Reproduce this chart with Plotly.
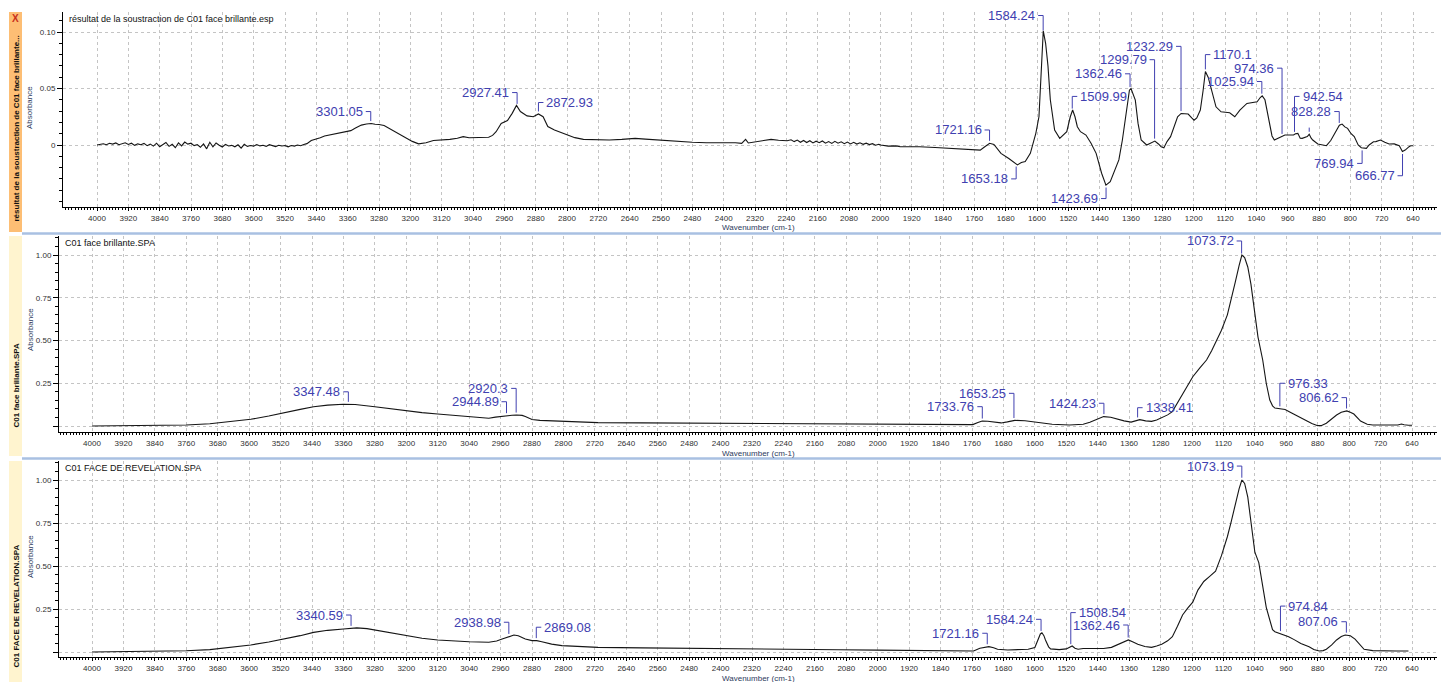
import numpy as np
import plotly.graph_objects as go

# ---------------------------------------------------------------------------
# Spectra: (wavenumber cm-1, absorbance)
# ---------------------------------------------------------------------------
SUB_SPECTRUM = [
    (4000, 0.0000), (3992, 0.0006), (3984, 0.0011), (3976, 0.0003), (3968, 0.0015),
    (3960, 0.0008), (3952, 0.0018), (3944, 0.0002), (3936, 0.0012), (3928, 0.0020),
    (3920, 0.0005), (3912, 0.0016), (3904, -0.0003), (3896, 0.0010), (3888, 0.0002),
    (3880, 0.0014), (3872, -0.0006), (3864, 0.0008), (3856, -0.0010), (3848, 0.0016),
    (3840, -0.0015), (3832, 0.0004), (3824, 0.0022), (3816, -0.0012), (3808, 0.0006),
    (3800, -0.0024), (3792, 0.0018), (3784, -0.0008), (3776, 0.0026), (3768, 0.0008),
    (3760, 0.0016), (3752, -0.0005), (3744, 0.0004), (3736, -0.0020), (3728, 0.0010),
    (3720, -0.0034), (3712, 0.0024), (3704, -0.0016), (3696, 0.0018), (3688, -0.0002),
    (3680, -0.0018), (3672, 0.0006), (3664, -0.0009), (3656, -0.0003), (3648, -0.0016),
    (3640, 0.0002), (3632, -0.0028), (3624, 0.0006), (3616, -0.0012), (3608, -0.0004),
    (3600, -0.0010), (3592, 0.0004), (3584, -0.0008), (3576, -0.0002), (3568, -0.0012),
    (3560, 0.0003), (3552, -0.0006), (3544, -0.0014), (3536, -0.0002), (3528, -0.0009),
    (3520, -0.0004), (3512, -0.0016), (3504, -0.0005), (3496, -0.0010), (3488, 0.0000),
    (3480, -0.0006), (3472, 0.0004), (3464, 0.0012), (3453, 0.0040), (3440, 0.0052),
    (3430, 0.0065), (3419, 0.0080), (3410, 0.0086), (3400, 0.0095), (3390, 0.0102),
    (3377, 0.0110), (3365, 0.0115), (3352, 0.0127), (3340, 0.0150), (3325, 0.0176),
    (3312, 0.0186), (3300, 0.0190), (3290, 0.0184), (3280, 0.0182), (3267, 0.0172),
    (3255, 0.0148), (3242, 0.0122), (3225, 0.0092), (3209, 0.0062), (3195, 0.0032),
    (3179, 0.0010), (3160, 0.0020), (3141, 0.0040), (3120, 0.0044), (3099, 0.0050),
    (3080, 0.0060), (3065, 0.0074), (3050, 0.0064), (3032, 0.0066), (3015, 0.0062),
    (3000, 0.0068), (2990, 0.0085), (2981, 0.0118), (2968, 0.0190), (2952, 0.0216),
    (2940, 0.0280), (2929, 0.0350), (2919, 0.0296), (2902, 0.0258), (2886, 0.0250),
    (2873, 0.0275), (2861, 0.0250), (2849, 0.0163), (2832, 0.0133), (2815, 0.0110),
    (2799, 0.0089), (2780, 0.0065), (2758, 0.0050), (2720, 0.0045), (2692, 0.0044),
    (2660, 0.0050), (2626, 0.0059), (2600, 0.0052), (2568, 0.0044), (2540, 0.0038),
    (2510, 0.0030), (2480, 0.0025), (2444, 0.0020), (2410, 0.0022), (2370, 0.0020),
    (2354, 0.0015), (2344, 0.0050), (2337, 0.0018), (2310, 0.0030), (2279, 0.0050),
    (2260, 0.0042), (2238, 0.0038), (2228, 0.0046), (2220, 0.0030), (2212, 0.0044),
    (2204, 0.0024), (2196, 0.0040), (2188, 0.0022), (2180, 0.0038), (2172, 0.0018),
    (2164, 0.0034), (2156, 0.0020), (2148, 0.0036), (2140, 0.0016), (2132, 0.0030),
    (2124, 0.0014), (2116, 0.0032), (2108, 0.0016), (2100, 0.0028), (2092, 0.0012),
    (2084, 0.0026), (2076, 0.0010), (2068, 0.0024), (2060, 0.0008), (2052, 0.0020),
    (2044, 0.0006), (2036, 0.0016), (2028, 0.0004), (2020, 0.0012), (2012, -0.0002),
    (2004, 0.0006), (1999, 0.0000), (1980, -0.0010), (1960, -0.0008), (1949, -0.0015),
    (1920, -0.0012), (1900, -0.0015), (1860, -0.0022), (1820, -0.0028), (1790, -0.0032),
    (1760, -0.0040), (1745, -0.0045), (1735, -0.0020), (1721, 0.0015), (1710, 0.0005),
    (1692, -0.0074), (1672, -0.0120), (1656, -0.0162), (1650, -0.0176), (1640, -0.0155),
    (1630, -0.0147), (1617, -0.0074), (1603, 0.0103), (1595, 0.0250), (1588, 0.0700),
    (1584, 0.1010), (1578, 0.0900), (1572, 0.0700), (1566, 0.0400), (1555, 0.0132),
    (1542, 0.0059), (1524, 0.0118), (1515, 0.0250), (1509, 0.0310), (1503, 0.0250),
    (1497, 0.0162), (1489, 0.0118), (1475, 0.0088), (1462, 0.0015), (1449, -0.0074),
    (1435, -0.0250), (1424, -0.0355), (1413, -0.0324), (1404, -0.0250), (1391, -0.0132),
    (1382, 0.0044), (1373, 0.0279), (1364, 0.0485), (1360, 0.0500), (1354, 0.0440),
    (1349, 0.0397), (1342, 0.0191), (1334, 0.0044), (1320, 0.0000), (1305, 0.0029),
    (1299, 0.0035), (1290, 0.0009), (1283, -0.0015), (1276, -0.0024), (1268, 0.0030),
    (1259, 0.0074), (1250, 0.0160), (1241, 0.0250), (1232, 0.0279), (1220, 0.0278),
    (1214, 0.0274), (1205, 0.0240), (1199, 0.0220), (1192, 0.0240), (1183, 0.0309),
    (1176, 0.0480), (1170, 0.0650), (1163, 0.0600), (1158, 0.0540), (1152, 0.0460),
    (1143, 0.0338), (1130, 0.0294), (1115, 0.0288), (1108, 0.0285), (1095, 0.0250),
    (1082, 0.0309), (1064, 0.0368), (1045, 0.0380), (1038, 0.0382), (1030, 0.0420),
    (1025, 0.0435), (1018, 0.0400), (1012, 0.0300), (1007, 0.0191), (1000, 0.0080),
    (994, 0.0044), (985, 0.0059), (967, 0.0088), (955, 0.0088), (945, 0.0088),
    (940, 0.0100), (934, 0.0103), (928, 0.0060), (923, 0.0059), (910, 0.0075),
    (905, 0.0095), (900, 0.0060), (896, 0.0044), (883, 0.0009), (861, -0.0006),
    (850, 0.0040), (839, 0.0103), (828, 0.0175), (821, 0.0185), (814, 0.0160),
    (807, 0.0147), (798, 0.0100), (790, 0.0074), (780, 0.0000), (772, -0.0024),
    (765, -0.0029), (759, -0.0030), (752, 0.0000), (741, 0.0029), (735, 0.0030),
    (723, 0.0044), (712, 0.0025), (701, 0.0009), (688, 0.0010), (675, -0.0006),
    (667, -0.0058), (660, -0.0045), (650, -0.0015), (646, -0.0006), (640, -0.0006),
]

BRIL_SPECTRUM = [
    (4000, 0.000), (3900, 0.002), (3800, 0.004), (3760, 0.006), (3700, 0.013),
    (3650, 0.024), (3596, 0.039), (3550, 0.058), (3512, 0.078), (3470, 0.097),
    (3436, 0.113), (3400, 0.122), (3360, 0.127), (3330, 0.126), (3280, 0.113),
    (3240, 0.101), (3200, 0.088), (3160, 0.078), (3120, 0.070), (3080, 0.062),
    (3040, 0.055), (3000, 0.046), (2990, 0.045), (2973, 0.052), (2952, 0.059),
    (2931, 0.063), (2920, 0.064), (2905, 0.062), (2897, 0.055), (2880, 0.038),
    (2860, 0.033), (2838, 0.031), (2800, 0.025), (2760, 0.022), (2712, 0.020),
    (2600, 0.018), (2500, 0.017), (2400, 0.016), (2300, 0.015), (2200, 0.014),
    (2100, 0.013), (2000, 0.013), (1920, 0.012), (1840, 0.012), (1780, 0.010),
    (1758, 0.008), (1745, 0.020), (1734, 0.029), (1720, 0.028), (1700, 0.022),
    (1686, 0.018), (1670, 0.024), (1651, 0.033), (1625, 0.031), (1599, 0.023),
    (1580, 0.018), (1556, 0.010), (1512, 0.006), (1477, 0.010), (1460, 0.022),
    (1442, 0.039), (1425, 0.055), (1407, 0.051), (1390, 0.040), (1373, 0.030),
    (1355, 0.023), (1340, 0.035), (1333, 0.037), (1318, 0.030), (1303, 0.027),
    (1290, 0.035), (1276, 0.049), (1262, 0.065), (1250, 0.084), (1237, 0.135),
    (1224, 0.191), (1211, 0.240), (1198, 0.288), (1180, 0.340), (1163, 0.386),
    (1150, 0.440), (1140, 0.490), (1125, 0.560), (1110, 0.650), (1100, 0.740),
    (1090, 0.840), (1080, 0.940), (1073, 1.000), (1066, 0.985), (1058, 0.930),
    (1050, 0.830), (1042, 0.700), (1032, 0.520), (1020, 0.386), (1011, 0.250),
    (1002, 0.152), (995, 0.118), (989, 0.105), (976, 0.100), (963, 0.096),
    (950, 0.080), (937, 0.064), (923, 0.050), (910, 0.035), (895, 0.015),
    (880, 0.002), (870, 0.003), (858, 0.016), (845, 0.040), (832, 0.064),
    (820, 0.080), (806, 0.088), (797, 0.080), (788, 0.070), (771, 0.029),
    (754, 0.010), (740, 0.006), (700, 0.006), (676, 0.006), (667, 0.012),
    (660, 0.007), (649, 0.004), (640, 0.004),
]

REV_SPECTRUM = [
    (4000, 0.000), (3900, 0.002), (3800, 0.004), (3760, 0.007), (3700, 0.014),
    (3650, 0.026), (3596, 0.041), (3550, 0.058), (3512, 0.074), (3470, 0.095),
    (3436, 0.114), (3400, 0.126), (3360, 0.134), (3326, 0.140), (3300, 0.136),
    (3280, 0.128), (3240, 0.112), (3200, 0.093), (3160, 0.080), (3120, 0.070),
    (3080, 0.064), (3040, 0.060), (2990, 0.057), (2970, 0.064), (2956, 0.075),
    (2940, 0.090), (2926, 0.099), (2915, 0.094), (2897, 0.075), (2880, 0.066),
    (2868, 0.066), (2855, 0.060), (2830, 0.046), (2804, 0.037), (2760, 0.031),
    (2712, 0.027), (2600, 0.024), (2500, 0.021), (2400, 0.019), (2300, 0.017),
    (2200, 0.015), (2100, 0.013), (2000, 0.011), (1920, 0.009), (1826, 0.008),
    (1790, 0.005), (1756, 0.006), (1740, 0.022), (1725, 0.030), (1717, 0.031),
    (1705, 0.025), (1695, 0.016), (1669, 0.012), (1640, 0.013), (1617, 0.016),
    (1600, 0.026), (1592, 0.070), (1586, 0.105), (1582, 0.112), (1577, 0.095),
    (1573, 0.070), (1565, 0.030), (1560, 0.018), (1538, 0.014), (1520, 0.018),
    (1512, 0.027), (1505, 0.035), (1498, 0.022), (1490, 0.016), (1477, 0.020),
    (1440, 0.020), (1425, 0.020), (1405, 0.027), (1390, 0.041), (1375, 0.058),
    (1362, 0.070), (1350, 0.058), (1338, 0.045), (1320, 0.032), (1303, 0.027),
    (1290, 0.035), (1277, 0.045), (1262, 0.065), (1250, 0.089), (1237, 0.150),
    (1224, 0.215), (1211, 0.255), (1198, 0.290), (1185, 0.360), (1170, 0.410),
    (1155, 0.440), (1140, 0.470), (1125, 0.560), (1110, 0.670), (1100, 0.760),
    (1090, 0.860), (1080, 0.950), (1073, 1.000), (1066, 0.980), (1058, 0.900),
    (1050, 0.760), (1040, 0.580), (1030, 0.520), (1020, 0.370), (1011, 0.260),
    (1002, 0.186), (995, 0.130), (989, 0.118), (976, 0.108), (965, 0.100),
    (954, 0.089), (940, 0.072), (923, 0.050), (902, 0.031), (890, 0.015),
    (876, 0.006), (866, 0.008), (858, 0.016), (845, 0.040), (832, 0.070),
    (820, 0.090), (810, 0.099), (797, 0.094), (785, 0.075), (775, 0.050),
    (762, 0.016), (740, 0.008), (719, 0.006), (680, 0.006), (649, 0.006),
]

# ---------------------------------------------------------------------------
# Peak picks (wavenumbers shown as labels)
# ---------------------------------------------------------------------------
SUB_PEAKS = [3301.05, 2927.41, 2872.93, 1721.16, 1653.18, 1584.24, 1509.99,
             1423.69, 1362.46, 1299.79, 1232.29, 1170.1, 1025.94, 974.36,
             942.54, 828.28, 769.94, 666.77]
SUB_MARKS = [905]  # pick marker whose label is hidden
BRIL_PEAKS = [3347.48, 2944.89, 2920.3, 1733.76, 1653.25, 1424.23, 1338.41,
              1073.72, 976.33, 806.62]
REV_PEAKS = [3340.59, 2938.98, 2869.08, 1721.16, 1584.24, 1508.54, 1362.46,
             1073.19, 974.84, 807.06]

# Label placement: (label height in absorbance units, text side of the bracket)
SUB_LABEL_POS = [(0.0296, "L"), (0.0464, "L"), (0.0376, "R"), (0.0133, "L"),
                 (-0.0300, "L"), (0.1146, "L"), (0.0430, "R"), (-0.0474, "L"),
                 (0.0630, "L"), (0.0755, "L"), (0.0873, "L"), (0.0800, "R"),
                 (0.0562, "L"), (0.0680, "L"), (0.0430, "R"), (0.0296, "L"),
                 (-0.0163, "L"), (-0.0272, "L")]
SUB_MARK_POS = [0.0154]
BRIL_LABEL_POS = [(0.200, "L"), (0.142, "L"), (0.220, "L"), (0.113, "L"),
                  (0.191, "L"), (0.133, "L"), (0.107, "R"), (1.082, "L"),
                  (0.250, "R"), (0.166, "L")]
REV_LABEL_POS = [(0.215, "L"), (0.173, "L"), (0.144, "R"), (0.109, "L"),
                 (0.190, "L"), (0.229, "R"), (0.157, "L"), (1.081, "L"),
                 (0.267, "R"), (0.176, "L")]

X_TICKS = list(range(4000, 639, -80))

# ---------------------------------------------------------------------------
# Page geometry (pixels)
# ---------------------------------------------------------------------------
W, H = 1441, 682
PANELS = [
    dict(left=63, right=1437, top=12, bottom=207, x4000=97, x640=1413,
         y0=145, yref_px=32, yref_val=0.10),
    dict(left=59, right=1437, top=236, bottom=432, x4000=92, x640=1412,
         y0=426, yref_px=255, yref_val=1.0),
    dict(left=59, right=1437, top=461, bottom=657, x4000=92, x640=1412,
         y0=652, yref_px=480, yref_val=1.0),
]

BLUE = "#4040B0"
FONT = "Arial, Liberation Sans, sans-serif"


def px(x):
    return x / W


def py(y):
    return 1 - y / H


fig = go.Figure()
annotations = []
shapes = []

spectra = [SUB_SPECTRUM, BRIL_SPECTRUM, REV_SPECTRUM]
peaks = [SUB_PEAKS, BRIL_PEAKS, REV_PEAKS]
label_pos = [SUB_LABEL_POS, BRIL_LABEL_POS, REV_LABEL_POS]
titles = ["résultat de la soustraction de C01 face brillante.esp",
          "C01 face brillante.SPA", "C01 FACE DE REVELATION.SPA"]
side_titles = ["résultat de la soustraction de C01 face brillante...",
               "C01 face brillante.SPA", "C01 FACE DE REVELATION.SPA"]
side_centers = [129, 385, 606]
absorb_centers = [108, 330, 557]

for i, p in enumerate(PANELS):
    n = "" if i == 0 else str(i + 1)
    xa, ya = "x" + n, "y" + n
    kx = (p["x640"] - p["x4000"]) / 3360.0
    ky = (p["y0"] - p["yref_px"]) / p["yref_val"]
    xr = [4000 + (p["x4000"] - p["left"]) / kx, 640 - (p["right"] - p["x640"]) / kx]
    yr = [-(p["bottom"] - p["y0"]) / ky, (p["y0"] - p["top"]) / ky]

    wn = np.array([a for a, _ in spectra[i]], dtype=float)
    ab = np.array([b for _, b in spectra[i]], dtype=float)
    fig.add_trace(go.Scatter(x=wn, y=ab, mode="lines", xaxis=xa, yaxis=ya,
                             line=dict(color="#151515", width=1.1),
                             hoverinfo="skip", showlegend=False))

    # peak-pick leaders
    order = np.argsort(wn)
    bw = 5 / kx
    gap = 2.5 / ky
    lx, ly = [], []
    items = [(v, lp[0], lp[1], str(v)) for v, lp in zip(peaks[i], label_pos[i])]
    if i == 0:
        items += [(v, h, None, "") for v, h in zip(SUB_MARKS, SUB_MARK_POS)]
    for v, h, side, txt in items:
        cv = float(np.interp(v, wn[order], ab[order]))
        end = cv + gap if h > cv else cv - gap
        if side == "L":
            lx += [v + bw, v, v, None]
            ly += [h, h, end, None]
            annotations.append(dict(x=v + bw, y=h, xref=xa, yref=ya, text=txt,
                                    showarrow=False, xanchor="right", yanchor="middle",
                                    xshift=-1, font=dict(size=13, color=BLUE, family=FONT)))
        elif side == "R":
            lx += [v - bw, v, v, None]
            ly += [h, h, end, None]
            annotations.append(dict(x=v - bw, y=h, xref=xa, yref=ya, text=txt,
                                    showarrow=False, xanchor="left", yanchor="middle",
                                    xshift=1, font=dict(size=13, color=BLUE, family=FONT)))
        else:
            lx += [v, v, None]
            ly += [h, end, None]
    fig.add_trace(go.Scatter(x=lx, y=ly, mode="lines", xaxis=xa, yaxis=ya,
                             line=dict(color=BLUE, width=1), hoverinfo="skip",
                             showlegend=False))

    if i == 0:
        yt = [0, 0.05, 0.10]
        ytt = ["0", "0.05", "0.10"]
        ymin = 0.01
    else:
        yt = [0, 0.25, 0.5, 0.75, 1.0]
        ytt = ["", "0.25", "0.50", "0.75", "1.00"]
        ymin = 0.05

    xdom = [px(p["left"]), px(p["right"])]
    ydom = [py(p["bottom"]), py(p["top"])]
    fig.layout["xaxis" + n] = dict(
        domain=xdom, range=xr, anchor=ya, tickmode="array", tickvals=X_TICKS,
        ticktext=[str(t) for t in X_TICKS], ticks="outside", ticklen=3,
        tickcolor="black", tickwidth=1, showline=True, linecolor="black",
        linewidth=1, showgrid=True, gridcolor="#c4c4c4", griddash="3px,3px",
        gridwidth=1, zeroline=False, tickfont=dict(size=8, color="#303030", family=FONT),
        minor=dict(tick0=0, dtick=8, ticks="outside", ticklen=2,
                   tickcolor="black", showgrid=False),
    )
    fig.layout["yaxis" + n] = dict(
        domain=ydom, range=yr, anchor=xa, tickmode="array", tickvals=yt,
        ticktext=ytt, ticks="outside", ticklen=5, tickcolor="black",
        showline=True, linecolor="black", linewidth=1, showgrid=True,
        gridcolor="#c4c4c4", griddash="3px,3px", gridwidth=1, zeroline=False,
        tickfont=dict(size=8, color="#303030", family=FONT),
        minor=dict(tick0=0, dtick=ymin, ticks="outside", ticklen=3,
                   tickcolor="black", showgrid=False),
    )

    # panel title, axis titles, side caption
    annotations.append(dict(x=px(p["left"] + 4), y=py(p["top"] + 7), xref="paper",
                            yref="paper", text=titles[i], showarrow=False,
                            xanchor="left", yanchor="middle",
                            font=dict(size=9, color="#111", family=FONT)))
    annotations.append(dict(x=px(30), y=py(absorb_centers[i]), xref="paper",
                            yref="paper", text="Absorbance", textangle=-90,
                            showarrow=False, xanchor="center", yanchor="middle",
                            font=dict(size=8, color="#2c3a5c", family=FONT)))
    annotations.append(dict(x=px(758), y=py(p["bottom"] + 21), xref="paper",
                            yref="paper", text="Wavenumber (cm-1)", showarrow=False,
                            xanchor="center", yanchor="middle",
                            font=dict(size=8, color="#2c3a5c", family=FONT)))
    annotations.append(dict(x=px(15.5), y=py(side_centers[i]), xref="paper",
                            yref="paper", text="<b>" + side_titles[i] + "</b>",
                            textangle=-90, showarrow=False, xanchor="center",
                            yanchor="middle",
                            font=dict(size=8, color="#111", family=FONT)))

# side bars and panel separators
bars = [((9, 12), (22, 232), "#FDBE74"),
        ((9, 236), (22, 456), "#FFF4CF"),
        ((9, 461), (22, 682), "#FFF4CF")]
for (x0, y0), (x1, y1), col in bars:
    shapes.append(dict(type="rect", xref="paper", yref="paper", x0=px(x0), x1=px(x1),
                       y0=py(y1), y1=py(y0), fillcolor=col, line=dict(width=0),
                       layer="below"))
for ys in (233.5, 458.5):
    shapes.append(dict(type="line", xref="paper", yref="paper", x0=px(22), x1=1,
                       y0=py(ys), y1=py(ys), line=dict(color="#A9C0E2", width=2.5)))

annotations.append(dict(x=px(15.5), y=py(18.5), xref="paper", yref="paper",
                        text="<b>X</b>", showarrow=False, xanchor="center",
                        yanchor="middle", font=dict(size=10, color="#C8301C", family=FONT)))

fig.update_layout(
    width=W, height=H, autosize=False,
    margin=dict(l=0, r=0, t=0, b=0),
    paper_bgcolor="white", plot_bgcolor="white",
    showlegend=False, annotations=annotations, shapes=shapes,
    font=dict(family=FONT),
)

fig.write_html("out.html")
